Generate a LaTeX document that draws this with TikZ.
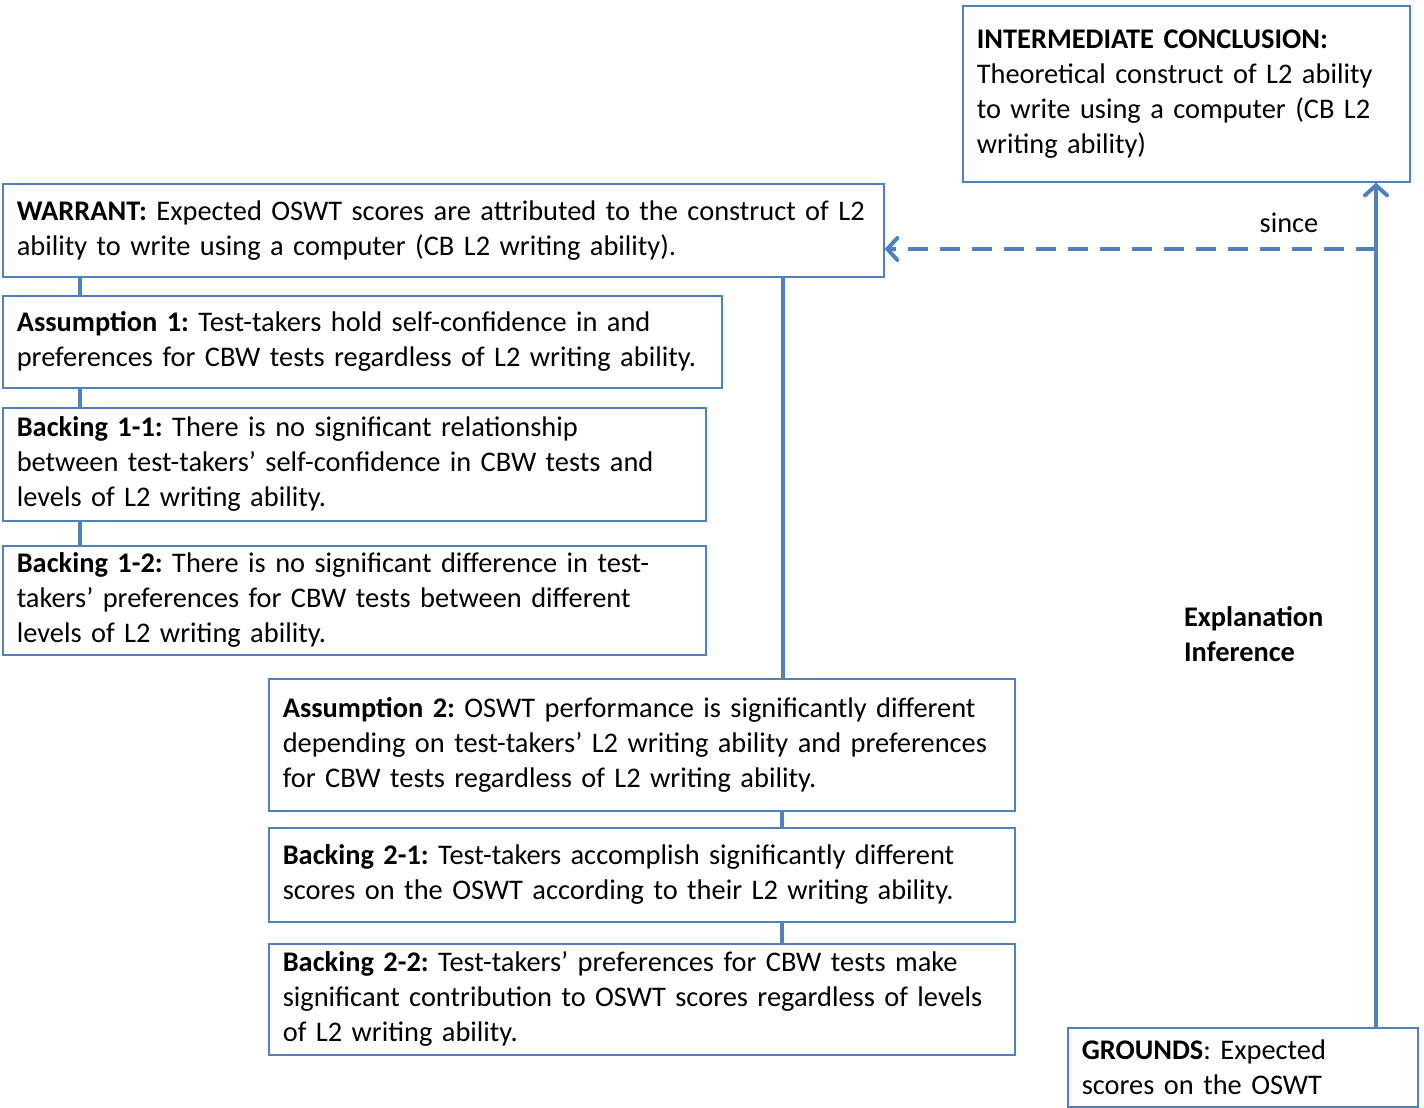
\documentclass[tikz,border=0pt]{standalone}
\usepackage{fontspec}
\setmainfont{Carlito}
\usetikzlibrary{arrows.meta}
\definecolor{argblue}{HTML}{4F81BD}
\tikzset{
argbox/.style n args={2}{
	draw=argblue, line width=0.8pt, anchor=north west,
	inner xsep=7pt, inner ysep=0pt, align=left,
	text width=#1-14pt, minimum width=#1, minimum height=#2,
	font=\fontsize{14.2}{17.5}\selectfont},
link/.style={draw=argblue, line width=2pt},
barb/.style={-{Straight Barb[length=5pt,width=11pt,line cap=round]}}
}
\frenchspacing

\begin{document}
\begin{tikzpicture}[x=0.5pt, y=-0.5pt]
	\useasboundingbox (0,0) rectangle (1424,1108);
	\node[argbox={223.5pt}{88pt}] (concl) at (962,5)
		{\textbf{INTERMEDIATE CONCLUSION:}\\ Theoretical construct of L2 ability\\ to write using a computer (CB L2\\ writing ability)};
	\node[argbox={440.5pt}{46.5pt}] (warrant) at (2,183)
		{\textbf{WARRANT:} Expected OSWT scores are attributed to the construct of L2\\ ability to write using a computer (CB L2 writing ability).};
	\node[argbox={359.5pt}{46pt}] (asm1) at (2,295)
		{\textbf{Assumption 1:} Test-takers hold self-confidence in and\\ preferences for CBW tests regardless of L2 writing ability.};
	\node[argbox={351.5pt}{56.5pt}] (back11) at (2,407)
		{\textbf{Backing 1-1:} There is no significant relationship\\ between test-takers' self-confidence in CBW tests and\\ levels of L2 writing ability.};
	\node[argbox={351.5pt}{54.5pt}] (back12) at (2,545)
		{\textbf{Backing 1-2:} There is no significant difference in test-\\ takers' preferences for CBW tests between different\\ levels of L2 writing ability.};
	\node[argbox={373pt}{66pt}] (asm2) at (268,678)
		{\textbf{Assumption 2:} OSWT performance is significantly different\\ depending on test-takers' L2 writing ability and preferences\\ for CBW tests regardless of L2 writing ability.};
	\node[argbox={373pt}{47pt}] (back21) at (268,827)
		{\textbf{Backing 2-1:} Test-takers accomplish significantly different\\ scores on the OSWT according to their L2 writing ability.};
	\node[argbox={373pt}{55.5pt}] (back22) at (268,943)
		{\textbf{Backing 2-2:} Test-takers' preferences for CBW tests make\\ significant contribution to OSWT scores regardless of levels\\ of L2 writing ability.};
	\node[argbox={175pt}{39.5pt}] (grounds) at (1067,1027)
		{\textbf{GROUNDS}: Expected\\ scores on the OSWT};
	\node[font=\fontsize{14.2}{17.5}\selectfont] (since) at (1289,223) {since};
	\node[font=\fontsize{14.2}{17.5}\selectfont\bfseries, align=left, anchor=west] (expl) at (1177,634)
		{Explanation\\ Inference};
	% left chain
	\draw[link] ([xshift=39pt]warrant.south west) -- ([xshift=39pt]asm1.north west);
	\draw[link] ([xshift=39pt]asm1.south west) -- ([xshift=39pt]back11.north west);
	\draw[link] ([xshift=39pt]back11.south west) -- ([xshift=39pt]back12.north west);
	% right chain
	\draw[link] ([xshift=-51pt]warrant.south east) -- ([xshift=-51pt]warrant.south east |- asm2.north);
	\draw[link] ([xshift=-117pt]asm2.south east) -- ([xshift=-117pt]back21.north east);
	\draw[link] ([xshift=-117pt]back21.south east) -- ([xshift=-117pt]back22.north east);
	% grounds to conclusion
	\coordinate (turn) at (1376,249);
	\draw[link, barb] (turn |- grounds.north) -- (turn |- concl.south);
	\draw[link, barb, dash pattern=on 10pt off 6pt] (turn) -- (turn -| warrant.east);
\end{tikzpicture}
\end{document}
